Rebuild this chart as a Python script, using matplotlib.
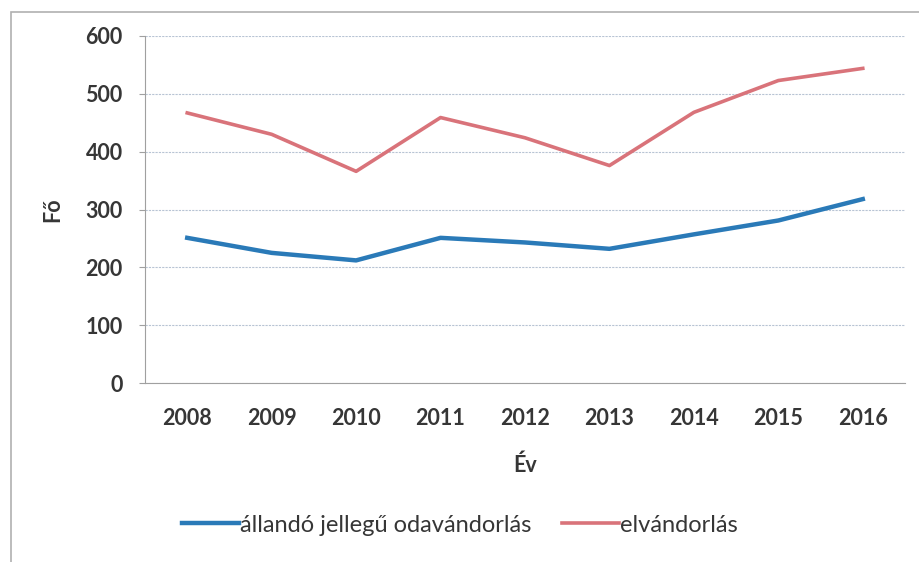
import matplotlib.pyplot as plt
from matplotlib.patches import Rectangle

years = ["2008", "2009", "2010", "2011", "2012", "2013", "2014", "2015", "2016"]
allando = [251, 225, 212, 251, 243, 232, 257, 281, 318]
elvandorlas = [467, 430, 366, 459, 424, 376, 468, 523, 544]

TEXT = "#363636"
BLUE = "#2a7ab8"
RED = "#d9737a"

plt.rcParams["font.family"] = ["Lato", "DejaVu Sans"]

fig = plt.figure(figsize=(9.2, 5.62), dpi=100)
fig.patches.append(Rectangle((0.012, -0.05), 1.1, 1.028, transform=fig.transFigure,
                             fill=False, edgecolor="#b0b0b0", linewidth=1.2))
ax = fig.add_axes([145 / 920, 1 - 383 / 562, (905 - 145) / 920, (383 - 36) / 562])

x = list(range(len(years)))
ax.plot(x, allando, color=BLUE, linewidth=3.2, label="állandó jellegű odavándorlás")
ax.plot(x, elvandorlas, color=RED, linewidth=2.6, label="elvándorlás")

ax.set_xlim(-0.5, len(years) - 0.5)
ax.set_ylim(0, 600)
ax.set_yticks(range(0, 601, 100))
ax.set_xticks(x)
ax.set_xticklabels(years)
ax.yaxis.grid(True, color="#b8c4d4", linewidth=0.8, linestyle=(0, (2, 1)))
ax.set_axisbelow(True)
for side in ("top", "right"):
    ax.spines[side].set_visible(False)
ax.spines["left"].set_color("#a0a0a0")
ax.spines["bottom"].set_color("#a0a0a0")
ax.tick_params(axis="y", length=4, color="#a0a0a0", labelsize=15.5, labelcolor=TEXT, pad=12)
ax.tick_params(axis="x", length=0, labelsize=15.5, labelcolor=TEXT, pad=18)
for lbl in ax.get_xticklabels() + ax.get_yticklabels():
    lbl.set_fontweight("bold")

ax.set_ylabel("Fő", fontsize=15.5, fontweight="bold", color=TEXT, labelpad=16)
ax.set_xlabel("Év", fontsize=15.5, fontweight="bold", color=TEXT, labelpad=18)

fig.legend(loc="center", bbox_to_anchor=(0.5, 1 - 525 / 562), ncol=2, frameon=False,
           fontsize=17, handlelength=2.4, handletextpad=0.05, columnspacing=1.3,
           labelcolor=TEXT)

fig.savefig("out.png", dpi=100)
